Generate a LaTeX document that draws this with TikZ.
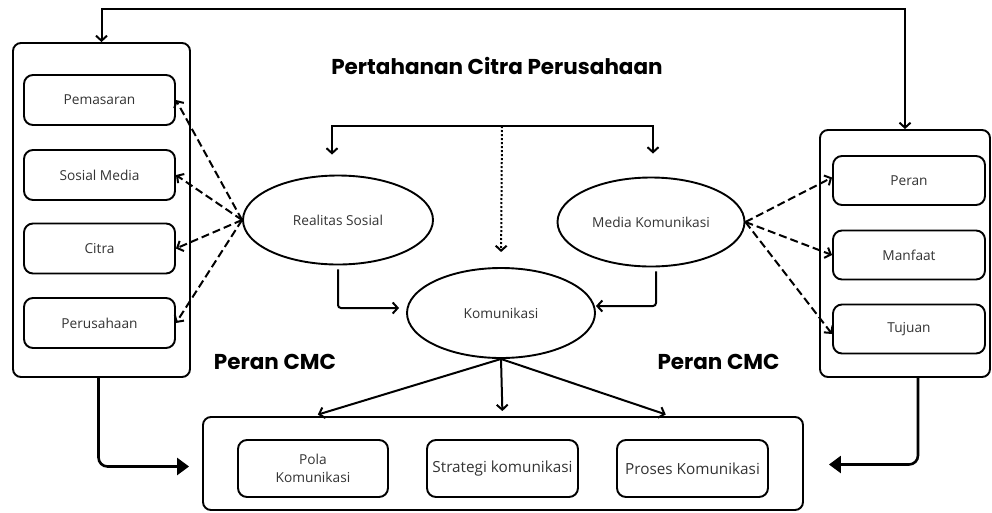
\documentclass[tikz,border=0pt]{standalone}
\usepackage{fontspec}
\setmainfont{Open Sans}
\newfontfamily\judulfont{Poppins}
\usepackage{tikz}
\usetikzlibrary{arrows.meta, positioning, shapes.geometric}
\tikzset{%
	kotak luar/.style={
		rectangle,
		draw,
		line width=1.9pt,
		rounded corners=8pt
	},
	kotak/.style={
		rectangle,
		draw,
		line width=1.9pt,
		rounded corners=9pt,
		text=black!80,
		font=\fontsize{13.7}{18}\selectfont,
		align=center
	},
	kotak besar/.style={
		kotak,
		font=\fontsize{15.3}{18}\selectfont
	},
	elips/.style={
		ellipse,
		draw,
		line width=1.9pt,
		text=black!80,
		font=\fontsize{13.7}{18}\selectfont
	},
	judul/.style={
		font=\judulfont\bfseries\fontsize{21.5}{24}\selectfont
	},
	panah/.style={
		line width=2pt,
		-{Straight Barb[length=5pt,width=11pt]}
	},
	putus/.style={
		line width=2pt,
		dash pattern=on 8pt off 4pt,
		-{Straight Barb[length=5pt,width=11pt]}
	},
	titik/.style={
		line width=2pt,
		dash pattern=on 2pt off 2pt,
		-{Straight Barb[length=5pt,width=11pt]}
	},
	panah besar/.style={
		line width=2.6pt,
		rounded corners=9pt,
		-{Triangle[length=12pt,width=17pt]}
	},
}
\begin{document}
\begin{tikzpicture}[x=1pt, y=-1pt]
				\useasboundingbox (0,0) rectangle (992,512);
				\node[kotak luar, minimum width=177, minimum height=334] (kiri) at (101.5,210) {};
				\node[kotak, minimum width=151, minimum height=50] (pemasaran) at (99.5,100) {Pemasaran};
				\node[kotak, minimum width=151, minimum height=50] (sosmed) at (99.5,175) {Sosial Media};
				\node[kotak, minimum width=151, minimum height=50] (citra) at (99.5,248.5) {Citra};
				\node[kotak, minimum width=151, minimum height=50] (perusahaan) at (99.5,323) {Perusahaan};
				
				\node[kotak luar, minimum width=170, minimum height=247] (kanan) at (905,253.5) {};
				\node[kotak, minimum width=152, minimum height=49] (peran) at (909,180.5) {Peran};
				\node[kotak, minimum width=152, minimum height=49] (manfaat) at (909,255) {Manfaat};
				\node[kotak, minimum width=152, minimum height=49] (tujuan) at (909,329) {Tujuan};
				
				\node[kotak luar, minimum width=600, minimum height=93] (bawah) at (503,463.5) {};
				\node[kotak, minimum width=150, minimum height=57] (pola) at (313,468.5) {Pola\\Komunikasi};
				\node[kotak besar, minimum width=151, minimum height=57, inner sep=0pt] (strategi) at (502.5,468.5) {Strategi komunikasi};
				\node[kotak besar, minimum width=151, minimum height=57] (proses) at (692.5,468.5) {Proses Komunikasi};
				
				\node[elips, minimum width=190, minimum height=89] (realitas) at (338,220) {Realitas Sosial};
				\node[elips, minimum width=187, minimum height=89] (media) at (651,222) {Media Komunikasi};
				\node[elips, minimum width=188, minimum height=90] (komunikasi) at (501,313) {Komunikasi};
				
				\node[judul] (judul) at (497,66) {Pertahanan Citra Perusahaan};
				\node[judul] (cmc kiri) at (275,362) {Peran CMC};
				\node[judul] (cmc kanan) at (718.5,362) {Peran CMC};
				
				\coordinate (cabang) at (502,126);
				
				\draw[panah, {Straight Barb[length=5pt,width=11pt]}-{Straight Barb[length=5pt,width=11pt]}] (kiri.north) -- ++(0,-33) -| (kanan.north);
				\draw[panah, shorten >=20pt] (cabang) -| ([xshift=-6pt]realitas.north);
				\draw[panah, shorten >=23pt] (cabang) -| ([xshift=2pt]media.north);
				\draw[titik, shorten >=15pt] (cabang) -- (komunikasi.north);
				
				\draw[panah, rounded corners=3pt, shorten <=4pt, shorten >=7pt] (realitas.south) |- ([yshift=5pt]komunikasi.west);
				\draw[panah, rounded corners=3pt, shorten <=4pt] ([xshift=5pt]media.south) |- ([yshift=7pt]komunikasi.east);
				
				\draw[panah, shorten >=5pt] (komunikasi.south) -- (pola.north |- bawah.north);
				\draw[panah, shorten >=5pt] (komunikasi.south) -- (strategi.north |- bawah.north);
				\draw[panah, shorten >=5pt] (komunikasi.south) -- ([xshift=-22pt]proses.north |- bawah.north);
				
				\draw[putus] (realitas.west) -- (pemasaran.east);
				\draw[putus] (realitas.west) -- (sosmed.east);
				\draw[putus] (realitas.west) -- (citra.east);
				\draw[putus] (realitas.west) -- (perusahaan.east);
				\draw[putus] (media.east) -- ([yshift=3pt]peran.west);
				\draw[putus] (media.east) -- (manfaat.west);
				\draw[putus] (media.east) -- ([yshift=-5pt]tujuan.west);
				
				\draw[panah besar, shorten >=13pt] ([xshift=-3pt]kiri.south) |- ([yshift=-3pt]bawah.west);
				\draw[panah besar, shorten >=25pt] ([xshift=13pt]kanan.south) |- ([yshift=-1pt]bawah.east);
			\end{tikzpicture}
\end{document}
